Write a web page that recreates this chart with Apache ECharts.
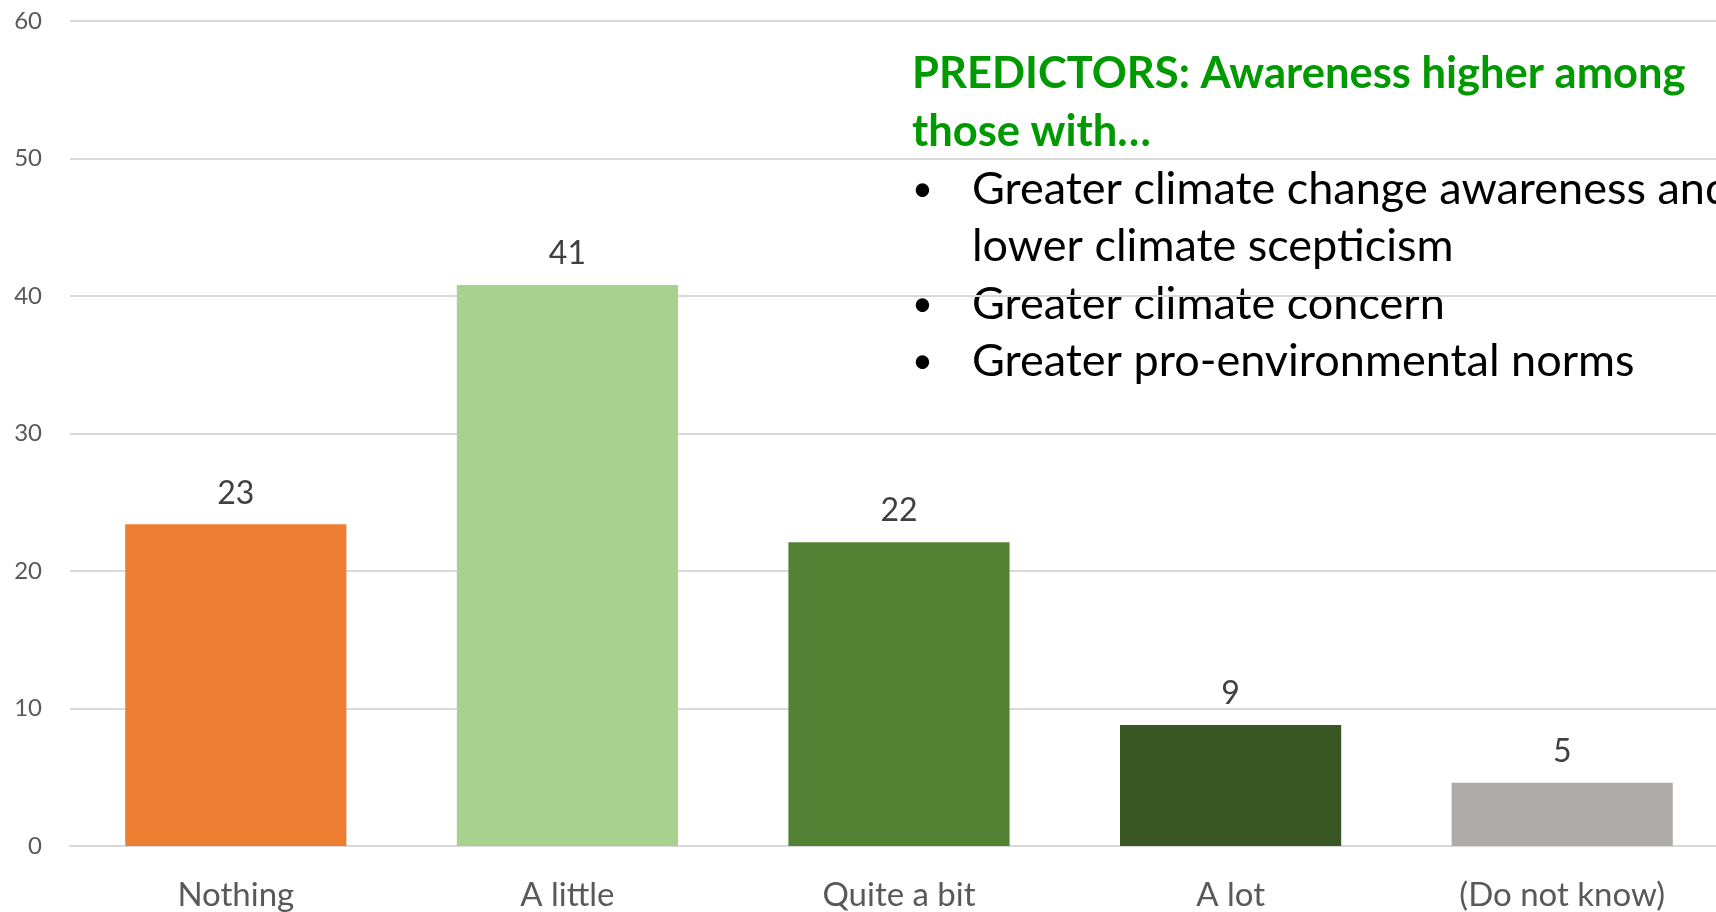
<!DOCTYPE html>
<html>
<head>
<meta charset="utf-8">
<script src="https://cdn.jsdelivr.net/npm/echarts@6/dist/echarts.min.js"></script>
<style>
  html, body { margin: 0; padding: 0; background: #fff; }
  #chart { width: 1716px; height: 912px; }
</style>
</head>
<body>
<div id="chart"></div>
<script>
const categories = ["Nothing", "A little", "Quite a bit", "A lot", "(Do not know)"];
const values = [23.4, 40.8, 22.1, 8.8, 4.6];
const barColors = ["#ED7D31", "#A9D18E", "#548235", "#385723", "#AEAAAA"];
const yTicks = [0, 10, 20, 30, 40, 50, 60];
const noteTitle = ["PREDICTORS: Awareness higher among", "those with\u2026"];
const noteBullets = [
  ["Greater climate change awareness and", "lower climate scepticism"],
  ["Greater climate concern"],
  ["Greater pro-environmental norms"],
];

const font = "Lato, 'Open Sans', sans-serif";

// annotation text, one element per line
const noteElements = [];
let lineY = 74;
const lineStep = 57.5;
noteTitle.forEach((t) => {
  noteElements.push({
    type: "text", x: 912, y: lineY,
    style: { text: t, fill: "#009A00", font: `bold 43.5px ${font}`, verticalAlign: "middle" },
  });
  lineY += lineStep;
});
noteBullets.forEach((lines) => {
  lines.forEach((t, i) => {
    if (i === 0) {
      noteElements.push({
        type: "text", x: 912, y: lineY,
        style: { text: "\u2022", fill: "#000", font: `36px ${font}`, verticalAlign: "middle" },
      });
    }
    noteElements.push({
      type: "text", x: 972, y: lineY,
      style: { text: t, fill: "#000", font: `45px ${font}`, verticalAlign: "middle" },
    });
    lineY += lineStep;
  });
});

const chart = echarts.init(document.getElementById("chart"));
chart.setOption({
  animation: false,
  grid: { left: 70, top: 21, width: 1658, height: 825, outerBoundsMode: "none" },
  xAxis: {
    type: "category",
    data: categories,
    axisLine: { lineStyle: { color: "#D9D9D9", width: 2 } },
    axisTick: { show: false },
    axisLabel: { color: "#595959", fontSize: 33, fontFamily: font, margin: 33 },
  },
  yAxis: {
    type: "value",
    min: yTicks[0],
    max: yTicks[yTicks.length - 1],
    interval: 10,
    axisLine: { show: false },
    axisTick: { show: false },
    splitLine: { lineStyle: { color: "#D9D9D9", width: 2 } },
    axisLabel: { color: "#595959", fontSize: 24, fontFamily: font, margin: 28 },
  },
  series: [
    {
      type: "bar",
      barCategoryGap: "33.3%",
      data: values.map((v, i) => ({ value: v, itemStyle: { color: barColors[i] } })),
      label: {
        show: true,
        position: "top",
        distance: 15,
        color: "#404040",
        fontSize: 32,
        fontFamily: font,
        formatter: (p) => Math.round(p.value),
      },
    },
  ],
  graphic: noteElements,
});
</script>
</body>
</html>
